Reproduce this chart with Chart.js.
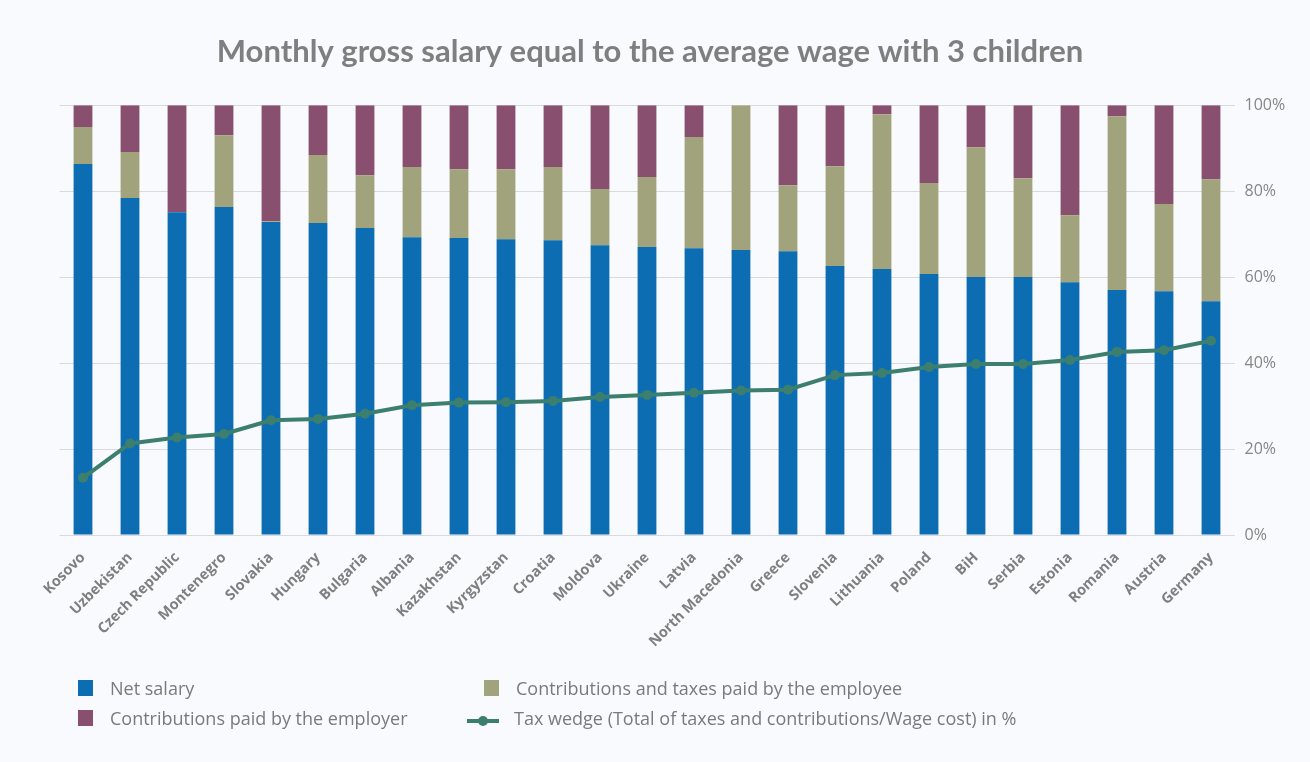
<!DOCTYPE html>
<html>
<head>
<meta charset="utf-8">
<script src="https://cdn.jsdelivr.net/npm/chart.js@4.4.1/dist/chart.umd.min.js"></script>
<style>
  html, body { margin: 0; padding: 0; background: #f8fafd; }
  #wrap { position: relative; width: 1310px; height: 762px; }
  #legend { position: absolute; left: 0; top: 0; width: 1310px; height: 762px; pointer-events: none;
            font-family: "Open Sans", sans-serif; font-size: 18px; color: #7a7a7a; }
  .item { position: absolute; white-space: nowrap; line-height: 22px; }
  .sw { position: absolute; width: 15px; height: 16px; }
</style>
</head>
<body>
<div id="wrap">
  <canvas id="chart" width="1310" height="762"></canvas>
  <div id="legend"></div>
</div>
<script>
(function () {
    "use strict";

    var countries = ['Kosovo', 'Uzbekistan', 'Czech Republic', 'Montenegro', 'Slovakia', 'Hungary',
        'Bulgaria', 'Albania', 'Kazakhstan', 'Kyrgyzstan', 'Croatia', 'Moldova', 'Ukraine', 'Latvia',
        'North Macedonia', 'Greece', 'Slovenia', 'Lithuania', 'Poland', 'BiH', 'Serbia', 'Estonia',
        'Romania', 'Austria', 'Germany'];

    var netSalary = [86.3, 78.4, 75.1, 76.3, 72.8, 72.6, 71.4, 69.3, 69.1, 68.8, 68.6, 67.4, 67.0,
        66.7, 66.3, 66.0, 62.6, 61.9, 60.7, 60.0, 60.0, 58.8, 57.0, 56.7, 54.4];
    var employeeShare = [8.6, 10.7, 0, 16.7, 0.2, 15.8, 12.3, 16.3, 16.0, 16.3, 17.0, 13.1, 16.3,
        25.9, 33.7, 15.4, 23.2, 36.0, 21.2, 30.2, 23.0, 15.6, 40.4, 20.3, 28.4];
    var employerShare = [5.1, 10.9, 24.9, 7.0, 27.0, 11.6, 16.3, 14.4, 14.9, 14.9, 14.4, 19.5, 16.7,
        7.4, 0, 18.6, 14.2, 2.1, 18.1, 9.8, 17.0, 25.6, 2.6, 23.0, 17.2];
    var taxWedge = [13.3, 21.3, 22.7, 23.5, 26.7, 27.0, 28.2, 30.2, 30.8, 30.9, 31.2, 32.1, 32.6,
        33.1, 33.6, 33.8, 37.2, 37.7, 39.1, 39.8, 39.8, 40.7, 42.6, 43.0, 45.2];
    var yTicks = [0, 20, 40, 60, 80, 100];

    var BLUE = '#0d6db3', OLIVE = '#a0a37c', PURPLE = '#884f6f', GREEN = '#3c7f6e';
    var GREY = '#7f7f7f';

    var ctx = document.getElementById('chart').getContext('2d');

    new Chart(ctx, {
        type: 'bar',
        data: {
            labels: countries,
            datasets: [
                { type: 'line', label: 'Tax wedge (Total of taxes and contributions/Wage cost) in %',
                  data: taxWedge, stack: 'wedge', order: 0, yAxisID: 'y',
                  borderColor: GREEN, backgroundColor: GREEN, borderWidth: 4,
                  pointRadius: 5, pointHoverRadius: 5, pointBorderWidth: 0, tension: 0 },
                { label: 'Net salary', data: netSalary, backgroundColor: BLUE, stack: 'pay', order: 1, yAxisID: 'y' },
                { label: 'Contributions and taxes paid by the employee', data: employeeShare,
                  backgroundColor: OLIVE, stack: 'pay', order: 1, yAxisID: 'y' },
                { label: 'Contributions paid by the employer', data: employerShare,
                  backgroundColor: PURPLE, stack: 'pay', order: 1, yAxisID: 'y' }
            ]
        },
        options: {
            responsive: false,
            animation: false,
            devicePixelRatio: 1,
            layout: { padding: { left: 0, right: 10, top: 0, bottom: 0 } },
            datasets: { bar: { barPercentage: 0.4, categoryPercentage: 1 } },
            plugins: {
                legend: { display: false },
                tooltip: { enabled: false },
                title: {
                    display: true,
                    text: 'Monthly gross salary equal to the average wage with 3 children',
                    color: GREY,
                    font: { family: 'Lato', size: 31, weight: 'bold' },
                    padding: { top: 33, bottom: 35 }
                }
            },
            scales: {
                x: {
                    stacked: true,
                    grid: { display: false },
                    border: { display: false },
                    ticks: {
                        autoSkip: false, maxRotation: 45, minRotation: 45, padding: 6,
                        color: GREY, font: { family: 'Open Sans', size: 14.5, weight: 'bold' }
                    },
                    afterFit: function (scale) {
                        scale.height = 227;
                        scale.paddingLeft = 0;
                        scale.paddingRight = 0;
                    }
                },
                y: {
                    stacked: true,
                    position: 'right',
                    min: 0, max: 100,
                    afterBuildTicks: function (scale) {
                        scale.ticks = yTicks.map(function (v) { return { value: v }; });
                    },
                    grid: { color: '#dadada', lineWidth: 1, drawTicks: false },
                    border: { display: false },
                    ticks: {
                        padding: 10, color: '#868686',
                        font: { family: 'Open Sans', size: 16 },
                        callback: function (v) { return v + '%'; }
                    },
                    afterFit: function (scale) {
                        scale.width = 65.5;
                        scale.paddingTop = 0;
                        scale.paddingBottom = 0;
                    }
                },
                // empty left axis, only keeps the left margin so the title stays centred
                spacer: {
                    type: 'linear',
                    position: 'left',
                    min: 0, max: 100,
                    grid: { display: false },
                    border: { display: false },
                    ticks: { display: false },
                    afterFit: function (scale) {
                        scale.width = 59.5;
                        scale.paddingTop = 0;
                        scale.paddingBottom = 0;
                    }
                }
            }
        }
    });

    // html legend, two columns like the original
    var legendItems = [
        { text: 'Net salary', color: BLUE, x: 78, y: 680, kind: 'box' },
        { text: 'Contributions and taxes paid by the employee', color: OLIVE, x: 484, y: 680, kind: 'box' },
        { text: 'Contributions paid by the employer', color: PURPLE, x: 78, y: 710, kind: 'box' },
        { text: 'Tax wedge (Total of taxes and contributions/Wage cost) in %', color: GREEN, x: 466, y: 710, kind: 'line' }
    ];
    var legend = document.getElementById('legend');
    legendItems.forEach(function (it) {
        var mark = document.createElement('div');
        if (it.kind === 'box') {
            mark.className = 'sw';
            mark.style.left = it.x + 'px';
            mark.style.top = it.y + 'px';
            mark.style.background = it.color;
        } else {
            mark.innerHTML = '<svg width="34" height="16"><line x1="1" y1="8" x2="33" y2="8" stroke="' + it.color +
                '" stroke-width="4"/><circle cx="17" cy="8" r="5" fill="' + it.color + '"/></svg>';
            mark.style.position = 'absolute';
            mark.style.left = it.x + 'px';
            mark.style.top = it.y + 'px';
        }
        legend.appendChild(mark);
        var label = document.createElement('div');
        label.className = 'item';
        label.textContent = it.text;
        label.style.left = (it.kind === 'box' ? it.x + 32 : it.x + 48) + 'px';
        label.style.top = (it.y - 3) + 'px';
        legend.appendChild(label);
    });
}());
</script>
</body>
</html>
